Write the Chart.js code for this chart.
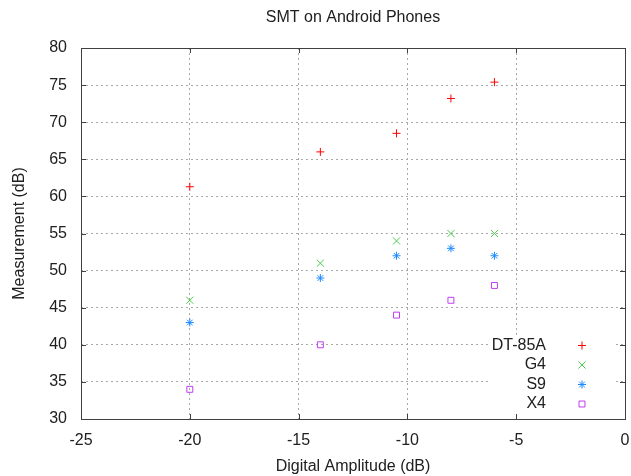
<!DOCTYPE html>
<html>
<head>
<meta charset="utf-8">
<title>SMT on Android Phones</title>
<script src="https://cdn.jsdelivr.net/npm/chart.js@4/dist/chart.umd.min.js"></script>
<style>
  html, body { margin: 0; padding: 0; background: #fff; }
  #wrap { width: 631px; height: 476px; }
</style>
</head>
<body>
<div id="wrap"><canvas id="smtChart" width="631" height="476"></canvas></div>
<script>
// digital amplitude steps (dB), same for every phone
const amplitudes = [-20, -14, -10.5, -8, -6];

// measured level per device (dB)
const dt85a = [61.3, 66, 68.5, 73.2, 75.4];
const g4 = [46, 51, 54, 55, 55];
const s9 = [43, 49, 52, 53, 52];
const x4 = [34, 40, 44, 46, 48];

const xTicks = [-25, -20, -15, -10, -5, 0];
const yTicks = [30, 35, 40, 45, 50, 55, 60, 65, 70, 75, 80];

const TITLE = 'SMT on Android Phones';
const FONT = 'Liberation Sans, Arial, sans-serif';
const SIZE = 16;
const INK = '#202020';

const series = [
  { label: 'DT-85A', values: dt85a, color: '#ff0000', style: 'cross', radius: 4 },
  { label: 'G4', values: g4, color: '#4ccc4c', style: 'crossRot', radius: 5 },
  { label: 'S9', values: s9, color: '#1e8cff', style: 'star', radius: 4 },
  { label: 'X4', values: x4, color: '#c13cf2', style: 'rect', radius: 4.2 }
];

function drawMarker(ctx, style, x, y, r) {
  ctx.beginPath();
  if (style === 'cross' || style === 'star') {
    ctx.moveTo(x, y - r); ctx.lineTo(x, y + r);
    ctx.moveTo(x - r, y); ctx.lineTo(x + r, y);
  }
  if (style === 'crossRot' || style === 'star') {
    const d = r * Math.SQRT1_2;
    ctx.moveTo(x - d, y - d); ctx.lineTo(x + d, y + d);
    ctx.moveTo(x - d, y + d); ctx.lineTo(x + d, y - d);
  }
  if (style === 'rect') {
    const h = r * Math.SQRT1_2;
    ctx.rect(x - h, y - h, 2 * h, 2 * h);
  }
  ctx.stroke();
}

// gnuplot-like frame: full border, inward tics on all sides, key box bottom right,
// title centred over the plot area
const frameAndKey = {
  id: 'frameAndKey',
  afterDraw(chart) {
    const { ctx, chartArea: a, scales } = chart;
    ctx.save();

    ctx.font = SIZE + 'px ' + FONT;
    ctx.fillStyle = INK;
    ctx.textAlign = 'center';
    ctx.textBaseline = 'middle';
    ctx.fillText(TITLE, (a.left + a.right) / 2, 18);

    // blank the key area so grid lines stop behind it
    const keyLeft = a.right - 137;
    const keyTop = a.bottom - 83;
    ctx.fillStyle = '#fff';
    ctx.fillRect(keyLeft, keyTop, a.right - 10 - keyLeft, a.bottom - keyTop);

    ctx.strokeStyle = '#404040';
    ctx.lineWidth = 1;
    ctx.strokeRect(Math.round(a.left) + 0.5, Math.round(a.top) + 0.5,
      Math.round(a.right - a.left), Math.round(a.bottom - a.top));

    const tic = 5;
    ctx.beginPath();
    xTicks.forEach(v => {
      const px = Math.round(scales.x.getPixelForValue(v)) + 0.5;
      ctx.moveTo(px, a.bottom); ctx.lineTo(px, a.bottom - tic);
      ctx.moveTo(px, a.top); ctx.lineTo(px, a.top + tic);
    });
    yTicks.forEach(v => {
      const py = Math.round(scales.y.getPixelForValue(v)) + 0.5;
      ctx.moveTo(a.left, py); ctx.lineTo(a.left + tic, py);
      ctx.moveTo(a.right, py); ctx.lineTo(a.right - tic, py);
    });
    ctx.stroke();

    // key entries: right-aligned label, sample marker to the right
    ctx.textAlign = 'right';
    series.forEach((s, i) => {
      const y = a.bottom - 73.5 + i * 19.5;
      ctx.fillStyle = INK;
      ctx.fillText(s.label, a.right - 79, y);
      ctx.strokeStyle = s.color;
      ctx.lineWidth = 1;
      drawMarker(ctx, s.style, a.right - 43, y, s.radius);
    });
    ctx.restore();
  }
};

const datasets = series.map(s => ({
  label: s.label,
  data: amplitudes.map((x, i) => ({ x: x, y: s.values[i] })),
  showLine: false,
  pointStyle: s.style,
  pointRadius: s.radius,
  pointHoverRadius: s.radius,
  pointBorderWidth: 1,
  pointBorderColor: s.color,
  pointBackgroundColor: 'rgba(0,0,0,0)'
}));

new Chart(document.getElementById('smtChart'), {
  type: 'scatter',
  data: { datasets: datasets },
  options: {
    responsive: false,
    devicePixelRatio: 1,
    animation: false,
    events: [],
    layout: { padding: { left: 0, right: 4, top: 48, bottom: 0 } },
    plugins: {
      legend: { display: false },
      tooltip: { enabled: false },
      title: { display: false }
    },
    scales: {
      x: {
        type: 'linear',
        position: 'bottom',
        min: xTicks[0],
        max: xTicks[xTicks.length - 1],
        ticks: {
          stepSize: xTicks[1] - xTicks[0],
          color: INK,
          font: { family: FONT, size: SIZE },
          padding: 12,
          maxRotation: 0
        },
        grid: { color: '#a8a8a8', drawTicks: false },
        border: { display: false, dash: [2, 3] },
        title: {
          display: true,
          text: 'Digital Amplitude (dB)',
          color: INK,
          font: { family: FONT, size: SIZE },
          padding: { top: 0, bottom: 0 }
        },
        afterFit(scale) {
          scale.height = 57;
          scale.paddingLeft = 0;
          scale.paddingRight = 0;
        }
      },
      y: {
        type: 'linear',
        min: yTicks[0],
        max: yTicks[yTicks.length - 1],
        ticks: {
          stepSize: yTicks[1] - yTicks[0],
          color: INK,
          font: { family: FONT, size: SIZE },
          padding: 14
        },
        grid: { color: '#a8a8a8', drawTicks: false },
        border: { display: false, dash: [2, 3] },
        title: {
          display: true,
          text: 'Measurement (dB)',
          color: INK,
          font: { family: FONT, size: SIZE },
          padding: { top: 9.5, bottom: 0 }
        },
        afterFit(scale) {
          scale.width = 81;
          scale.paddingTop = 0;
          scale.paddingBottom = 0;
        }
      }
    }
  },
  plugins: [frameAndKey]
});
</script>
</body>
</html>
